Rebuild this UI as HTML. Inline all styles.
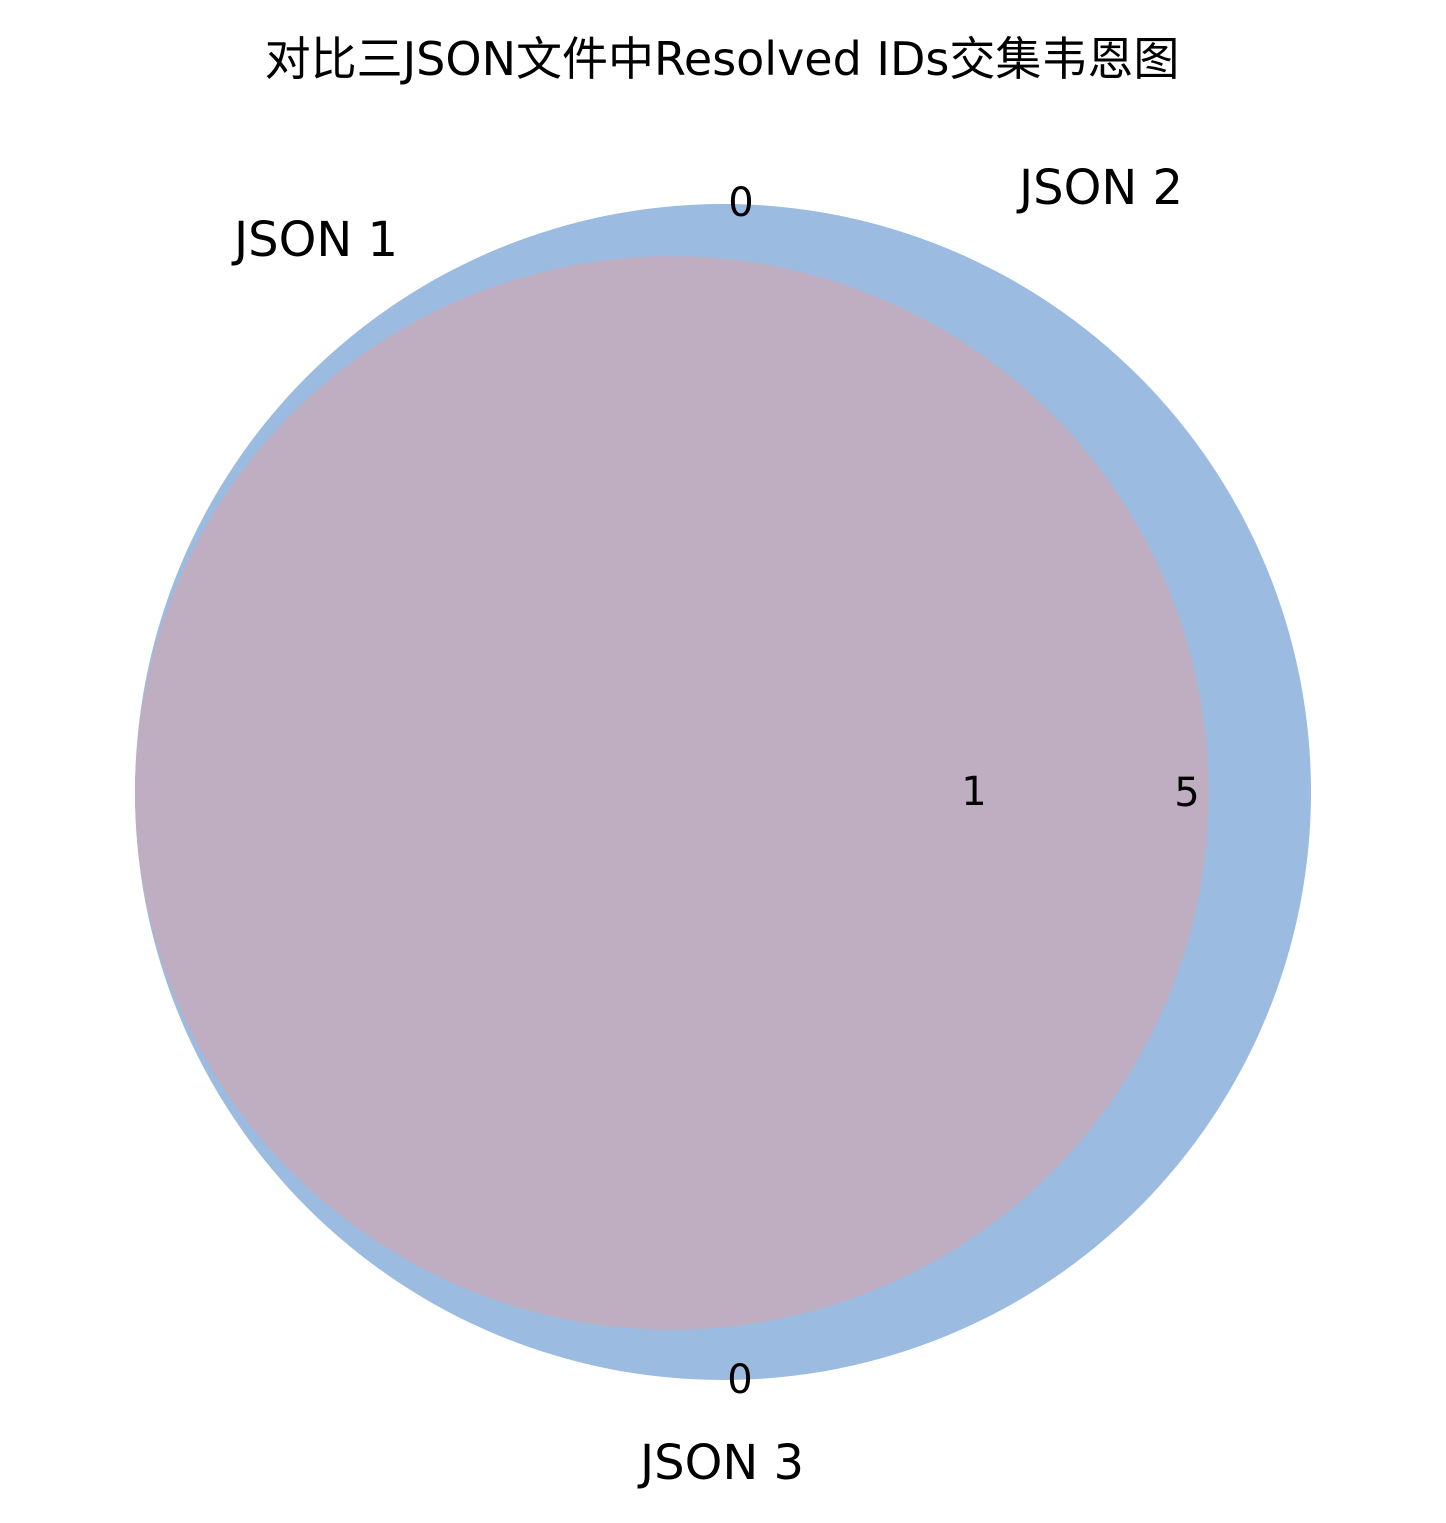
<!DOCTYPE html>
<html><head><meta charset="utf-8"><style>
html,body{margin:0;padding:0;background:#fff;}
svg text{font-family:"DejaVu Sans","Liberation Sans","Noto Sans CJK SC",sans-serif;fill:#000;}
</style></head><body>
<svg id="chart" width="1446" height="1518" viewBox="0 0 1446 1518" xmlns="http://www.w3.org/2000/svg">
<text x="722" y="75" font-size="46" text-anchor="middle">对比三JSON文件中Resolved IDs交集韦恩图</text>
<g id="circles"></g>
<g id="labels"></g>
</svg>
<script>
const setNames = ["JSON 1", "JSON 2", "JSON 3"];
const setSizes = [5, 6, 5];
const regionLabels = ["0", "1", "5", "0"];
const NS = "http://www.w3.org/2000/svg";
const circles = document.getElementById("circles");
const labels = document.getElementById("labels");
const rScale = s => 588 * Math.sqrt(s / Math.max(...setSizes));
const r2 = rScale(setSizes[1]);
const r1 = rScale(setSizes[0]);
const big = {cx: 723, cy: 792, r: r2};
const small = {cx: 723 - (r2 - r1), cy: 793, r: r1};
function circle(c, fill, name) {
  const e = document.createElementNS(NS, "circle");
  e.setAttribute("cx", c.cx); e.setAttribute("cy", c.cy); e.setAttribute("r", c.r);
  e.setAttribute("fill", fill);
  
  
  circles.appendChild(e);
}
circle(big, "#9bbbe0", "json-2-circle");
circle(small, "#bfadc1", "json-1-json-3-overlap-circle");
function text(x, y, s, size, name) {
  const t = document.createElementNS(NS, "text");
  t.setAttribute("x", x); t.setAttribute("y", y);
  t.setAttribute("font-size", size); t.setAttribute("text-anchor", "middle");
  t.textContent = s;
  
  
  labels.appendChild(t);
}
text(741, 216, regionLabels[0], 40, "region-label-top");
text(974, 805, regionLabels[1], 40, "region-label-center");
text(1187, 806, regionLabels[2], 40, "region-label-right");
text(740, 1393, regionLabels[3], 40, "region-label-bottom");
text(316, 256, setNames[0], 48, "set-label-json-1");
text(1101, 204, setNames[1], 48, "set-label-json-2");
text(722, 1479, setNames[2], 48, "set-label-json-3");
</script>
</body></html>
